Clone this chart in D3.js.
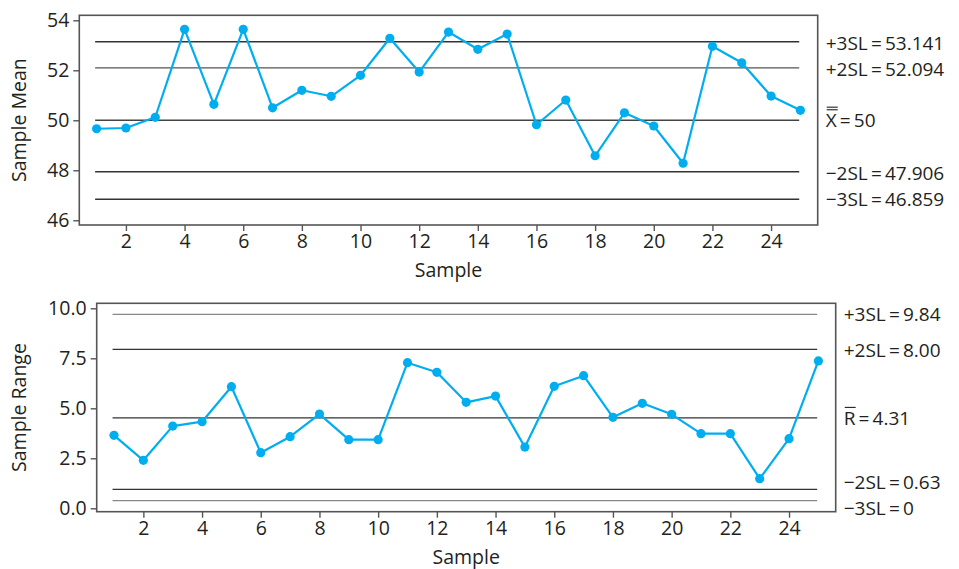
<!DOCTYPE html>
<html>
<head>
<meta charset="utf-8">
<script src="https://cdn.jsdelivr.net/npm/d3@7"></script>
<style>
  html, body { margin: 0; padding: 0; background: #fff; }
  svg text { font-family: "Open Sans", "Noto Sans", sans-serif; fill: #231f20; }
</style>
</head>
<body>
<svg id="chart" width="959" height="569"></svg>
<script>
// ---- data ----
const samples = d3.range(1, 26);
const xTicks = [2, 4, 6, 8, 10, 12, 14, 16, 18, 20, 22, 24];

const meanValues = [49.66, 49.69, 50.12, 53.64, 50.64, 53.64, 50.50, 51.20, 50.96, 51.80,
                    53.28, 51.93, 53.53, 52.84, 53.45, 49.82, 50.81, 48.58, 50.30, 49.77,
                    48.28, 52.96, 52.30, 50.97, 50.40];
const meanTicks = [46, 48, 50, 52, 54];
const meanLimitValues = [53.141, 52.094, 50, 47.94, 46.84];
const meanLimitLabels = ["+3SL\u2009=\u200953.141", "+2SL\u2009=\u200952.094", "X\u2009=\u200950", "\u22122SL\u2009=\u200947.906", "\u22123SL\u2009=\u200946.859"];

const rangeValues = [3.65, 2.40, 4.11, 4.33, 6.08, 2.78, 3.58, 4.71, 3.43, 3.43,
                     7.28, 6.80, 5.30, 5.61, 3.06, 6.10, 6.63, 4.55, 5.25, 4.70,
                     3.73, 3.73, 1.48, 3.48, 7.37];
const rangeTicks = [0, 2.5, 5, 7.5, 10];
const rangeLimitValues = [9.70, 7.95, 4.52, 0.95, 0.38];
const rangeLimitLabels = ["+3SL\u2009=\u20099.84", "+2SL\u2009=\u20098.00", "R\u2009=\u20094.31", "\u22122SL\u2009=\u20090.63", "\u22123SL\u2009=\u20090"];

const svg = d3.select("#chart");
const blue = "#00aeef";

function panel(cfg) {
  const g = svg.append("g");
  const x = d3.scaleLinear().domain([0.41, 25.59]).range([cfg.left, cfg.right]);
  const y = d3.scaleLinear().domain(cfg.yDomain).range([cfg.bottom, cfg.top]);

  // control lines
  g.selectAll("line.cl").data(cfg.limits).join("line")
    .attr("class", "cl")
    .attr("x1", x(0.95)).attr("x2", x(24.96))
    .attr("y1", d => y(d)).attr("y2", d => y(d))
    .attr("stroke", (d, i) => cfg.limitColors[i])
    .attr("stroke-width", 1.3);

  // frame
  g.append("rect")
    .attr("x", cfg.left).attr("y", cfg.top)
    .attr("width", cfg.right - cfg.left).attr("height", cfg.bottom - cfg.top)
    .attr("fill", "none").attr("stroke", "#555").attr("stroke-width", 1.6);

  // axes
  const yAxis = g.append("g").attr("transform", `translate(${cfg.left},0)`)
    .call(d3.axisLeft(y).tickValues(cfg.yTicks).tickFormat(cfg.yFormat).tickSizeInner(6).tickSizeOuter(0).tickPadding(4));
  const xAxis = g.append("g").attr("transform", `translate(0,${cfg.bottom})`)
    .call(d3.axisBottom(x).tickValues(xTicks).tickFormat(d3.format("d")).tickSizeInner(6).tickSizeOuter(0).tickPadding(3));
  [yAxis, xAxis].forEach(a => {
    a.select(".domain").remove();
    a.selectAll(".tick line").attr("stroke", "#555").attr("stroke-width", 1.4);
    a.selectAll(".tick text").attr("font-size", 19.5).attr("fill", "#231f20")
      .style("font-family", '"Open Sans", sans-serif');
  });

  // series line + points
  const line = d3.line().x((d, i) => x(samples[i])).y(d => y(d));
  g.append("path").datum(cfg.values)
    .attr("d", line).attr("fill", "none")
    .attr("stroke", blue).attr("stroke-width", 2.2).attr("stroke-linejoin", "round");
  g.selectAll("circle").data(cfg.values).join("circle")
    .attr("cx", (d, i) => x(samples[i])).attr("cy", d => y(d))
    .attr("r", 4.6).attr("fill", blue);

  // limit labels
  g.selectAll("text.lab").data(cfg.limits).join("text")
    .attr("class", "lab")
    .attr("x", cfg.right + cfg.labelGap)
    .attr("y", (d, i) => y(d) + cfg.labelNudge[i])
    .attr("dy", "0.36em")
    .attr("font-size", 19)
    .text((d, i) => cfg.labels[i]);

  // overlines for the centre-line symbol
  const ci = cfg.centerIndex;
  const cy = y(cfg.limits[ci]) + cfg.labelNudge[ci];
  const bx = cfg.right + cfg.labelGap;
  for (let k = 0; k < cfg.bars; k++) {
    g.append("line")
      .attr("x1", bx + 1).attr("x2", bx + 12)
      .attr("y1", cy - 10.5 - k * 2.6).attr("y2", cy - 10.5 - k * 2.6)
      .attr("stroke", "#231f20").attr("stroke-width", 1.1);
  }

  // axis titles
  g.append("text")
    .attr("transform", `translate(${cfg.yTitleX},${(cfg.top + cfg.bottom) / 2}) rotate(-90)`)
    .attr("text-anchor", "middle").attr("dy", "0.36em")
    .attr("font-size", 19.5).text(cfg.yTitle);
  g.append("text")
    .attr("x", (cfg.left + cfg.right) / 2).attr("y", cfg.xTitleY)
    .attr("text-anchor", "middle").attr("dy", "0.36em")
    .attr("font-size", 19.5).text("Sample");
}

panel({
  left: 79.3, right: 817.7, top: 15.3, bottom: 225,
  yDomain: [45.81, 54.2], yTicks: meanTicks, yFormat: d3.format("d"),
  values: meanValues, limits: meanLimitValues, labels: meanLimitLabels,
  limitColors: ["#333", "#555", "#444", "#333", "#333"],
  labelGap: 8, labelNudge: [1, 1, 0, 1, 0], centerIndex: 2, bars: 2,
  yTitle: "Sample Mean", yTitleX: 19, xTitleY: 270
});

panel({
  left: 96.7, right: 835.7, top: 303.3, bottom: 511.7,
  yDomain: [-0.17, 10.25], yTicks: rangeTicks, yFormat: d3.format(".1f"),
  values: rangeValues, limits: rangeLimitValues, labels: rangeLimitLabels,
  limitColors: ["#888", "#333", "#333", "#333", "#888"],
  labelGap: 8, labelNudge: [0, 1, 0, -7, 7], centerIndex: 2, bars: 1,
  yTitle: "Sample Range", yTitleX: 19, xTitleY: 557
});
</script>
</body>
</html>
